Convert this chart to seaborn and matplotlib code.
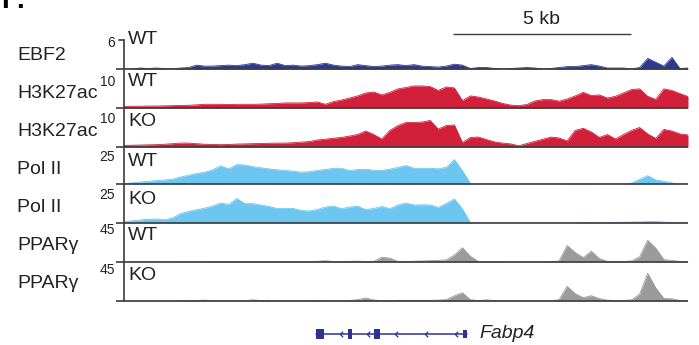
import numpy as np
import matplotlib
matplotlib.use("Agg")
import matplotlib.pyplot as plt
from matplotlib.lines import Line2D
from matplotlib.patches import Rectangle
from matplotlib.path import Path
import seaborn as sns

# ---------------------------------------------------------------- data
# genomic window (kb from window start), one coverage value per bin
positions_kb = np.linspace(0.0, 15.85, 71)

ebf2_wt = [0, 0, 0.2, 0.1, 0.2, 0.1, 0, 0.2, 0.3, 0.8,
           0.6, 0.6, 0.7, 0.8, 0.7, 0.9, 1.2, 0.8, 0.7, 1.2,
           0.7, 0.8, 0.6, 0.7, 0.9, 1.2, 0.8, 0.6, 0.5, 0.9,
           0.7, 0.5, 0.6, 0.8, 0.9, 0.7, 0.9, 0.6, 0.5, 0.4,
           0.6, 1.0, 0.8, 0.1, 0.3, 0.3, 0.1, 0.0, 0.1, 0.2,
           0.3, 0.2, 0.0, 0.1, 0.3, 0.5, 0.5, 0.7, 0.9, 0.6,
           0.2, 0.2, 0.2, 0.0, 0.3, 2.2, 1.4, 0.6, 2.4, 0.1,
           0.2]

h3k27ac_wt = [0.4, 0.45, 0.45, 0.5, 0.5, 0.55, 0.6, 0.65, 0.7, 0.8,
              0.95, 0.95, 0.95, 0.9, 0.95, 0.95, 0.95, 1.0, 1.1, 1.15,
              1.3, 1.3, 1.3, 1.4, 1.55, 0.95, 1.65, 2.05, 2.55, 3.1,
              3.85, 4.1, 3.35, 4.0, 4.9, 5.25, 5.65, 5.65, 5.5, 4.5,
              5.4, 5.15, 1.9, 3.1, 2.8, 2.3, 1.8, 1.15, 0.75, 0.6,
              0.9, 1.8, 2.15, 2.15, 1.75, 2.3, 3.1, 4.0, 3.2, 3.35,
              2.55, 3.0, 3.85, 4.75, 4.9, 3.0, 2.2, 4.9, 4.5, 3.7,
              2.95]

h3k27ac_ko = [0.4, 0.45, 0.5, 0.55, 0.6, 0.7, 0.85, 1.0, 1.0, 0.85,
              0.7, 0.65, 0.6, 0.65, 0.75, 0.8, 0.85, 0.9, 0.95, 1.0,
              1.0, 1.1, 1.25, 1.4, 1.8, 2.0, 2.25, 2.45, 2.8, 3.2,
              4.1, 3.2, 2.05, 4.25, 5.5, 6.3, 6.3, 6.4, 6.8, 4.6,
              5.5, 5.65, 1.15, 2.45, 2.55, 1.9, 1.3, 1.0, 0.8, 0.3,
              0.9, 1.45, 2.0, 2.55, 2.3, 1.55, 4.25, 4.8, 3.85, 2.45,
              3.2, 2.05, 3.2, 4.25, 5.0, 3.35, 2.2, 4.5, 4.1, 3.35,
              3.1]

pol2_wt = [0.2, 0.8, 1.3, 1.8, 2.25, 2.7, 3.2, 4.7, 5.9, 7.05,
           8.0, 9.6, 12.2, 10.25, 13.1, 12.8, 11.7, 10.9, 10.25, 9.6,
           9.15, 8.65, 8.0, 8.3, 9.15, 9.8, 10.6, 10.6, 9.0, 9.8,
           9.95, 9.3, 9.15, 10.05, 11.2, 12.5, 10.6, 10.6, 10.6, 10.25,
           11.2, 16.5, 9.0, 0.2, 0, 0, 0, 0, 0, 0,
           0, 0, 0, 0, 0, 0.2, 0.2, 0.2, 0.2, 0,
           0, 0, 0, 0.65, 3.2, 5.6, 2.75, 1.8, 0.75, 0.1,
           0]

pol2_ko = [0.75, 1.4, 1.9, 2.45, 2.55, 2.1, 3.2, 5.95, 7.4, 8.5,
           9.5, 10.9, 12.8, 11.85, 15.7, 12.4, 12.4, 11.5, 10.6, 9.3,
           9.4, 9.3, 8.0, 7.7, 8.65, 10.25, 10.9, 9.15, 10.25, 10.7,
           8.65, 9.3, 10.6, 9.15, 11.55, 12.8, 11.55, 11.65, 11.55, 9.95,
           12.5, 15.4, 9.0, 0.2, 0, 0, 0, 0, 0, 0,
           0, 0, 0, 0, 0, 0, 0, 0.2, 0.3, 0.1,
           0.3, 0.5, 0.5, 0.6, 0.7, 0.9, 0.9, 0.6, 0.4, 0.3,
           0.1]

pparg_wt = [0.1, 0.1, 0.1, 0.1, 0.1, 0.1, 0.1, 0.1, 0.2, 0.1,
            0.2, 0.3, 0.3, 0.4, 0.3, 0.4, 0.3, 0.4, 0.5, 0.3,
            0.3, 0.4, 0.3, 0.4, 0.8, 1.5, 0.5, 0.4, 0.6, 1.0,
            0.6, 0.7, 5.5, 4.5, 0.6, 0.6, 0.9, 1.2, 1.5, 1.8,
            2.5, 8.0, 16.5, 6.5, 0.6, 0.4, 0.3, 0.3, 0.2, 0.2,
            0.2, 0.2, 0.2, 0.4, 1.2, 19.0, 11.0, 5.0, 12.5, 4.0,
            0.8, 0.5, 0.6, 1.2, 6.0, 25.0, 16.0, 2.8, 1.8, 0.6,
            0.3]

pparg_ko = [0.1, 0.1, 0.1, 0.1, 0.1, 0.1, 0.1, 0.5, 0.8, 0.6,
            1.0, 0.4, 0.3, 0.2, 0.2, 0.3, 1.4, 0.5, 0.8, 0.4,
            0.3, 0.3, 0.3, 0.4, 0.8, 0.4, 0.3, 0.4, 0.6, 1.5,
            3.5, 1.2, 0.5, 0.6, 0.8, 0.8, 0.8, 0.8, 0.8, 1.0,
            1.6, 6.0, 9.5, 1.5, 0.4, 1.4, 0.4, 0.2, 0.2, 0.2,
            0.2, 0.2, 0.2, 0.3, 1.5, 17.0, 8.5, 3.8, 6.1, 2.8,
            1.0, 0.5, 0.6, 1.3, 8.0, 32.0, 15.0, 3.0, 2.6, 0.6,
            0.3]

track_names = ["EBF2", "H3K27ac", "H3K27ac", "Pol II", "Pol II", "PPAR\u03b3", "PPAR\u03b3"]
track_genotypes = ["WT", "WT", "KO", "WT", "KO", "WT", "KO"]
track_scales = [6, 10, 10, 25, 25, 45, 45]
track_signals = [ebf2_wt, h3k27ac_wt, h3k27ac_ko, pol2_wt, pol2_ko, pparg_wt, pparg_ko]

# Fabp4 gene model (kb), minus strand
exon_starts_kb = [5.40, 6.30, 7.03, 9.53]
exon_ends_kb = [5.62, 6.41, 7.20, 9.64]
intron_arrows_kb = [6.10, 6.86, 7.64, 8.49, 9.33]
gene_name = "Fabp4"

scale_bar_start_kb = 9.24
scale_bar_kb = 5

# ---------------------------------------------------------------- style
sns.set_theme(style="white")
plt.rcParams["font.family"] = ["Liberation Sans", "DejaVu Sans"]

colors = ["#2b3990", "#d21f3a", "#d21f3a", "#6cc6ef", "#6cc6ef", "#9b9b9b", "#9b9b9b"]
axis_color = "#3c3c3c"
gene_color = "#2e3192"

W, H = 699, 345
fig = plt.figure(figsize=(W / 100, H / 100), dpi=100)


def fx(px):
    return px / W


def fy(py):
    return 1 - py / H


track_left, track_right = 124, 688
baselines = [69, 108, 147, 184, 223, 262, 301]
tops = [40, 69, 108, 147, 184, 223, 262]
name_y = [56, 93, 132, 170, 208, 246, 284]
geno_y = [40, 82, 122, 161, 200, 236, 275]
scale_y = [43, 82, 119, 157, 195, 230, 270]

for i, sig in enumerate(track_signals):
    top, base = tops[i], baselines[i]
    ax = fig.add_axes([fx(track_left), fy(base), fx(track_right - track_left),
                       (base - top) / H])
    sns.lineplot(x=positions_kb, y=sig, ax=ax, color=colors[i], linewidth=0.6,
                 estimator=None)
    ax.fill_between(positions_kb, 0, sig, color=colors[i], linewidth=0)
    ax.set_xlim(positions_kb[0], positions_kb[-1])
    ax.set_ylim(0, track_scales[i])
    ax.set_axis_off()
    # baseline, extending a little to the left of the scale axis
    ax.plot([-8 / (track_right - track_left), 1], [0, 0], transform=ax.transAxes,
            color=axis_color, linewidth=1.2, clip_on=False, solid_capstyle="butt")

    fig.text(fx(17), fy(name_y[i]), track_names[i], fontsize=14,
             ha="left", va="center", color="#222222")
    fig.text(fx(128), fy(geno_y[i]), track_genotypes[i], fontsize=14,
             ha="left", va="center", color="#222222")
    fig.text(fx(115), fy(scale_y[i]), str(track_scales[i]), fontsize=10,
             ha="right", va="center", color="#222222")

# shared scale axis on the left
fig.add_artist(Line2D([fx(track_left), fx(track_left)], [fy(301), fy(40)],
                      color=axis_color, linewidth=1.2))
fig.add_artist(Line2D([fx(119), fx(track_left)], [fy(40), fy(40)],
                      color=axis_color, linewidth=1.2))

# scale bar
ax_sb = fig.add_axes([fx(track_left), fy(40), fx(track_right - track_left), 30 / H])
ax_sb.set_xlim(positions_kb[0], positions_kb[-1])
ax_sb.set_ylim(0, 30)
ax_sb.set_axis_off()
ax_sb.plot([scale_bar_start_kb, scale_bar_start_kb + scale_bar_kb], [6, 6],
           color=axis_color, linewidth=1.0, solid_capstyle="butt")
ax_sb.text(scale_bar_start_kb + scale_bar_kb / 2, 20, f"{scale_bar_kb} kb",
           fontsize=14, ha="center", va="center", color="#222222")

# gene model
ax_g = fig.add_axes([fx(track_left), fy(344), fx(track_right - track_left), 20 / H])
ax_g.set_xlim(positions_kb[0], positions_kb[-1])
ax_g.set_ylim(-1, 1)
ax_g.set_axis_off()
ax_g.plot([exon_starts_kb[0], exon_ends_kb[-1]], [0, 0], color=gene_color,
          linewidth=1.1)
for k, (s, e) in enumerate(zip(exon_starts_kb, exon_ends_kb)):
    h = 0.5 if k < len(exon_starts_kb) - 1 else 0.4
    ax_g.add_patch(Rectangle((s, -h), e - s, 2 * h, color=gene_color, linewidth=0))
chevron = Path([(0.6, 1.0), (-0.4, 0.0), (0.6, -1.0)],
               [Path.MOVETO, Path.LINETO, Path.LINETO])
ax_g.plot(intron_arrows_kb, [0] * len(intron_arrows_kb), linestyle="none",
          marker=chevron, markersize=4, markeredgewidth=0.9,
          markeredgecolor=gene_color, markerfacecolor="none")
ax_g.text(10.0, 0, gene_name, fontsize=14, fontstyle="italic", ha="left",
          va="center", color="#222222")

# panel letter
fig.text(fx(1), fy(8), "I", fontsize=20, fontweight="bold", ha="left",
         va="baseline", color="black")
fig.text(fx(16), fy(8), ".", fontsize=20, fontweight="bold", ha="left",
         va="baseline", color="black")

fig.savefig("out.png", dpi=100)
